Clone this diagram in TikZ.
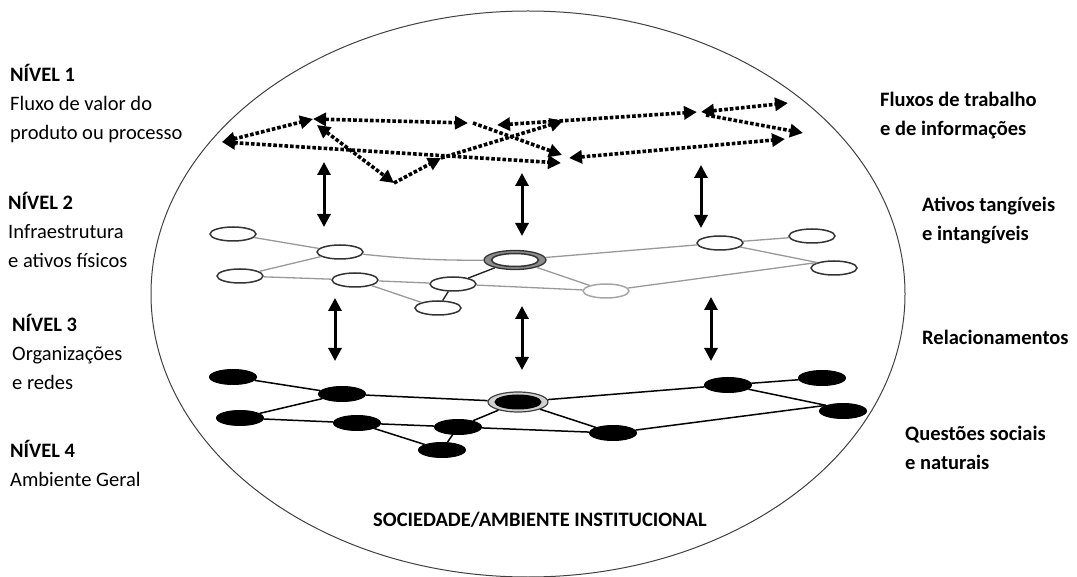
\documentclass[tikz,border=0pt]{standalone}
\usepackage{fontspec}
\setmainfont{Carlito}
\usetikzlibrary{arrows.meta,shapes.geometric}
\begin{document}
\begin{tikzpicture}[x=1pt,y=-1pt,
  txt/.style={anchor=base west, inner sep=0pt, font=\fontsize{20.5}{24}\selectfont},
  btxt/.style={txt, font=\fontsize{20.5}{24}\selectfont\bfseries},
  flow/.style={line width=3.6pt, dash pattern=on 3.6pt off 2pt, black},
  tipboth/.style={arrows={Triangle[length=13pt,width=13pt]-Triangle[length=13pt,width=13pt]}},
  tipend/.style={arrows={-Triangle[length=13pt,width=13pt]}},
  vert/.style={line width=3pt, arrows={Triangle[length=13pt,width=13pt]-Triangle[length=13pt,width=13pt]}},
  wnode/.style={ellipse, draw=black!80, line width=1.5pt, fill=white, minimum width=46pt, minimum height=14pt, inner sep=0pt},
  bnode/.style={ellipse, draw=black, line width=1pt, fill=black, minimum width=47pt, minimum height=15pt, inner sep=0pt},
  gedge/.style={draw=black!40, line width=1.3pt},
  dedge/.style={draw=black!85, line width=1.4pt},
  bedge/.style={draw=black, line width=1.5pt}
]
\useasboundingbox (0,0) rectangle (1077,577);

% outer environment
\draw[line width=1pt, black!75] (528,294) ellipse [x radius=377, y radius=283];

% left labels
\node[btxt] (n1) at (10,82) {NÍVEL 1};
\node[txt] (n1a) at (10,111) {Fluxo de valor do};
\node[txt] (n1b) at (10,140) {produto ou processo};
\node[btxt] (n2) at (8,210) {NÍVEL 2};
\node[txt] (n2a) at (8,239) {Infraestrutura};
\node[txt] (n2b) at (8,268) {e ativos físicos};
\node[btxt] (n3) at (12,332) {NÍVEL 3};
\node[txt] (n3a) at (12,361) {Organizações};
\node[txt] (n3b) at (12,390) {e redes};
\node[btxt] (n4) at (10,457) {NÍVEL 4};
\node[txt] (n4a) at (10,486) {Ambiente Geral};

% right labels
\node[btxt] (r1a) at (880,107) {Fluxos de trabalho};
\node[btxt] (r1b) at (880,136) {e de informações};
\node[btxt] (r2a) at (922,212) {Ativos tangíveis};
\node[btxt] (r2b) at (922,241) {e intangíveis};
\node[btxt] (r3) at (922,345) {Relacionamentos};
\node[btxt] (r4a) at (905,440) {Questões sociais};
\node[btxt] (r4b) at (905,469) {e naturais};
\node[btxt, anchor=base] (soc) at (540,526) {SOCIEDADE/AMBIENTE INSTITUCIONAL};

% level 1: work and information flows
\coordinate (a1) at (222,142);
\coordinate (a2) at (313,119);
\coordinate (a3) at (468,123);
\coordinate (a4) at (317,125);
\coordinate (a5) at (394,183);
\coordinate (a6) at (441,158);
\coordinate (a7) at (563,121);
\coordinate (a8) at (561,163);
\coordinate (a3b) at (473,123);
\coordinate (a9) at (562,155);
\coordinate (a10) at (497,125);
\coordinate (a11) at (697,112);
\coordinate (a11b) at (701,112);
\coordinate (a12) at (788,103);
\coordinate (a11c) at (706,115);
\coordinate (a13) at (803,133);
\coordinate (a14) at (569,158);
\coordinate (a15) at (785,139);

\draw[flow, tipboth] (a1) -- (a2);
\draw[flow, tipboth] (a2) -- (a3);
\draw[flow, tipboth] (a4) -- (a5);
\draw[flow, tipend] (a5) -- (a6);
\draw[flow, tipend] (a6) -- (a7);
\draw[flow, tipboth] (a1) -- (a8);
\draw[flow, tipend] (a3b) -- (a9);
\draw[flow, tipboth] (a10) -- (a11);
\draw[flow, tipboth] (a11b) -- (a12);
\draw[flow, tipend] (a11c) -- (a13);
\draw[flow, tipboth] (a14) -- (a15);

% level 2: infrastructure network
\node[wnode] (e1) at (233,234) {};
\node[wnode] (e2) at (340,252) {};
\node[wnode] (e3) at (240,276) {};
\node[wnode] (e4) at (355,280) {};
\node[wnode] (e5) at (453,284) {};
\node[wnode] (e6) at (438,308) {};
\node[ellipse, draw=black!80, line width=1.3pt, fill=black!45, minimum width=62pt, minimum height=19pt, inner sep=0pt] (e7) at (515,260) {};
\node[wnode, minimum width=47pt, minimum height=13pt] (e7i) at (515,260) {};
\node[wnode, draw=black!35] (e8) at (606,291) {};
\node[wnode] (e9) at (720,243) {};
\node[wnode] (e10) at (812,236) {};
\node[wnode] (e11) at (834,268) {};

\draw[gedge] (e1) -- (e2);
\draw[gedge] (e2) to[bend right=3] (e7);
\draw[gedge] (e3) -- (e2);
\draw[gedge] (e3) -- (e4);
\draw[gedge] (e4) -- (e5);
\draw[gedge] (e4) -- (e6);
\draw[dedge] (e5) -- (e6);
\draw[dedge] (e5) -- (e7);
\draw[gedge] (e7) -- (e8);
\draw[gedge] (e5) -- (e8);
\draw[gedge] (e7) -- (e9);
\draw[gedge] (e9) -- (e10);
\draw[gedge] (e9) -- (e11.north west);
\draw[gedge] (e8) -- (e11.north west);

% level 3: organisations network
\node[bnode] (f1) at (233,377) {};
\node[bnode] (f2) at (342,394) {};
\node[bnode] (f3) at (240,418) {};
\node[bnode] (f4) at (357,423) {};
\node[bnode] (f5) at (458,427) {};
\node[bnode] (f6) at (442,450) {};
\node[ellipse, draw=black!75, line width=1.2pt, fill=black!18, minimum width=60pt, minimum height=20pt, inner sep=0pt] (f7) at (518,402) {};
\node[bnode, minimum width=46pt, minimum height=14pt] (f7i) at (518,402) {};
\node[bnode] (f8) at (613,433) {};
\node[bnode] (f9) at (728,385) {};
\node[bnode] (f10) at (822,378) {};
\node[bnode] (f11) at (843,411) {};

\draw[bedge] (f1) -- (f2);
\draw[bedge] (f2) -- (f7);
\draw[bedge] (f3) -- (f2);
\draw[bedge] (f3) -- (f4);
\draw[bedge] (f4) -- (f5);
\draw[bedge] (f4) -- (f6);
\draw[bedge] (f5) -- (f6);
\draw[bedge] (f5) -- (f7);
\draw[bedge] (f7) -- (f8);
\draw[bedge] (f5) -- (f8);
\draw[bedge] (f7) -- (f9);
\draw[bedge] (f9) -- (f10);
\draw[bedge] (f9) -- (f11.north west);
\draw[bedge] (f8) -- (f11.north west);

% links between levels
\coordinate (v1t) at (324,162);
\coordinate (v1b) at (324,227);
\coordinate (v2t) at (522,173);
\coordinate (v2b) at (522,236);
\coordinate (v3t) at (701,165);
\coordinate (v3b) at (701,228);
\coordinate (v4t) at (335,298);
\coordinate (v4b) at (335,361);
\coordinate (v5t) at (522,306);
\coordinate (v5b) at (522,370);
\coordinate (v6t) at (711,297);
\coordinate (v6b) at (711,361);
\draw[vert] (v1t) -- (v1b);
\draw[vert] (v2t) -- (v2b);
\draw[vert] (v3t) -- (v3b);
\draw[vert] (v4t) -- (v4b);
\draw[vert] (v5t) -- (v5b);
\draw[vert] (v6t) -- (v6b);
\end{tikzpicture}
\end{document}
